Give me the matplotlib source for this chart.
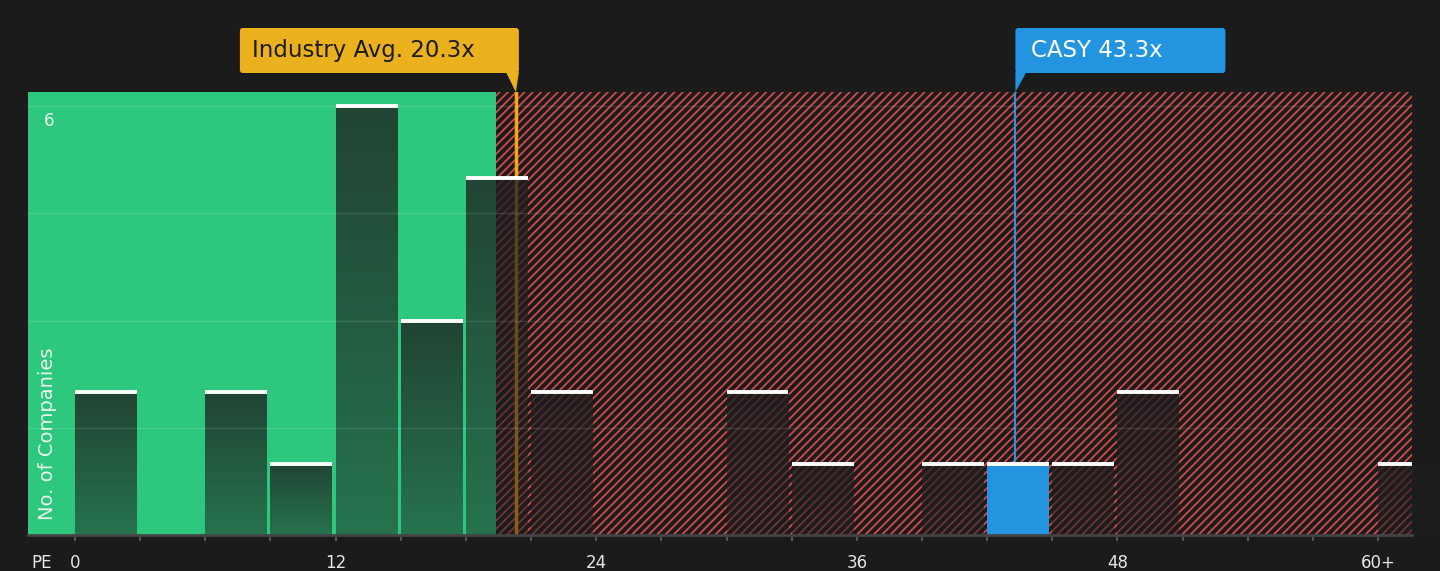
import matplotlib
matplotlib.use("Agg")
import matplotlib.pyplot as plt
import numpy as np
from matplotlib.patches import FancyBboxPatch, Polygon

bg = "#1b1b1b"
green = "#2ec77e"
red_hatch = "#d24a4a"
yellow = "#ebb01e"
blue = "#2394df"

# PE histogram bins (start of each 3x-wide bin) and company counts
bin_starts = [0, 3, 6, 9, 12, 15, 18, 21, 24, 27, 30, 33, 36, 39, 42, 45, 48, 51, 54, 57, 60]
counts = [2, 0, 2, 1, 6, 3, 5, 2, 0, 0, 2, 1, 0, 1, 1, 1, 2, 0, 0, 0, 1]
tick_pos = [0, 12, 24, 36, 48, 60]
tick_labels = ["0", "12", "24", "36", "48", "60+"]
grid_levels = [1.5, 3, 4.5, 6]

industry_avg = 20.3
company_pe = 43.3
company_name = "CASY"
company_bin = 42
fair_limit = 19.4
bar_width = 2.85

plt.rcParams["hatch.linewidth"] = 1.3

W, H = 1440, 571
fig = plt.figure(figsize=(W / 100, H / 100), dpi=100, facecolor=bg)
ax = fig.add_axes([28 / W, 36 / H, 1384 / W, 443 / H])
ax.set_facecolor(bg)
xlim = (-2.164, 61.56)
ylim = (0, 6.2)

# background zones
ax.axvspan(xlim[0], fair_limit, color=green, lw=0, zorder=0)
ax.axvspan(fair_limit, xlim[1], facecolor=bg, edgecolor=red_hatch, hatch="////", lw=0, zorder=0)

# industry average line (sits under the bars)
ax.axvline(industry_avg, color="#f0a81c", lw=2.5, zorder=1)

# bars with a dark vertical gradient
grad = np.zeros((100, 1, 4))
grad[..., :3] = 0.12
grad[:, 0, 3] = np.linspace(0.78, 0.5, 100)
for start, c in zip(bin_starts, counts):
    if c == 0:
        continue
    if start == company_bin:
        ax.bar(start, c, width=bar_width, align="edge", color=blue, lw=0, zorder=3)
        continue
    patch = ax.bar(start, c, width=bar_width, align="edge", facecolor="none", lw=0, zorder=2)[0]
    im = ax.imshow(grad, extent=(start, start + bar_width, 0, c), aspect="auto",
                   interpolation="bicubic", zorder=2)
    im.set_clip_path(patch)

ax.axvline(company_pe, ymax=1, color=blue, lw=1.5, zorder=2.5)

# white caps on each bar
starts = np.array(bin_starts, dtype=float)
vals = np.array(counts, dtype=float)
m = vals > 0
ax.hlines(vals[m], starts[m], starts[m] + bar_width, color="white", lw=2.8, zorder=5)

ax.set_xlim(*xlim)
ax.set_ylim(*ylim)

# grid
ax.set_yticks(grid_levels)
ax.set_yticklabels([])
ax.tick_params(axis="y", length=0)
ax.grid(axis="y", color="white", alpha=0.12, lw=1)
ax.set_axisbelow(False)
for gl in ax.get_ygridlines():
    gl.set_zorder(4)

ax.set_xticks(tick_pos)
ax.set_xticklabels(tick_labels)
ax.set_xticks(np.arange(0, 61, 3), minor=True)
ax.tick_params(axis="x", which="both", color="#555555", length=4.5, width=1.5,
               labelcolor="#e6e6e6", labelsize=12, pad=9)

for s in ["top", "left", "right"]:
    ax.spines[s].set_visible(False)
ax.spines["bottom"].set_color("#444444")
ax.spines["bottom"].set_linewidth(2)
ax.spines["bottom"].set_zorder(6)

ax.text(20 / 1384, 15 / 443, "No. of Companies", transform=ax.transAxes, rotation=90,
        ha="center", va="bottom", color="#e8f5ee", fontsize=14, zorder=7)
ax.text(-1.2, 5.8, "6", ha="center", va="center", color="#e8f5ee", fontsize=12, zorder=7)
fig.text(42 / W, 1 - 563 / H, "PE", ha="center", va="center", color="#e6e6e6", fontsize=12)

# callout boxes, placed in pixels from the data positions
def to_px(x):
    return ax.transData.transform((x, 0))[0]

box_bot, box_top = H - 73, H - 28
tip_y = H - 92

avg_px = to_px(industry_avg)
right = avg_px + 3
left = right - 279
fig.patches.append(FancyBboxPatch((left, box_bot), right - left, box_top - box_bot,
                                  boxstyle="round,pad=0,rounding_size=3", fc=yellow, ec="none",
                                  transform=None, figure=fig))
fig.patches.append(Polygon([(right - 13, box_bot + 1), (right, box_bot + 1), (avg_px, tip_y)],
                           closed=True, fc=yellow, ec="none", transform=None, figure=fig))
fig.text((left + 12) / W, (box_bot + box_top) / 2 / H, f"Industry Avg. {industry_avg}x",
         ha="left", va="center", color="#1b1b1b", fontsize=16.5)

co_px = to_px(company_pe)
left = co_px
right = left + 210
fig.patches.append(FancyBboxPatch((left, box_bot), right - left, box_top - box_bot,
                                  boxstyle="round,pad=0,rounding_size=3", fc=blue, ec="none",
                                  transform=None, figure=fig))
fig.patches.append(Polygon([(left, box_bot + 1), (left + 11, box_bot + 1), (co_px, tip_y)],
                           closed=True, fc=blue, ec="none", transform=None, figure=fig))
fig.text((left + 16) / W, (box_bot + box_top) / 2 / H, f"{company_name} {company_pe}x",
         ha="left", va="center", color="white", fontsize=16.5)

fig.savefig("out.png", dpi=100, facecolor=bg)
